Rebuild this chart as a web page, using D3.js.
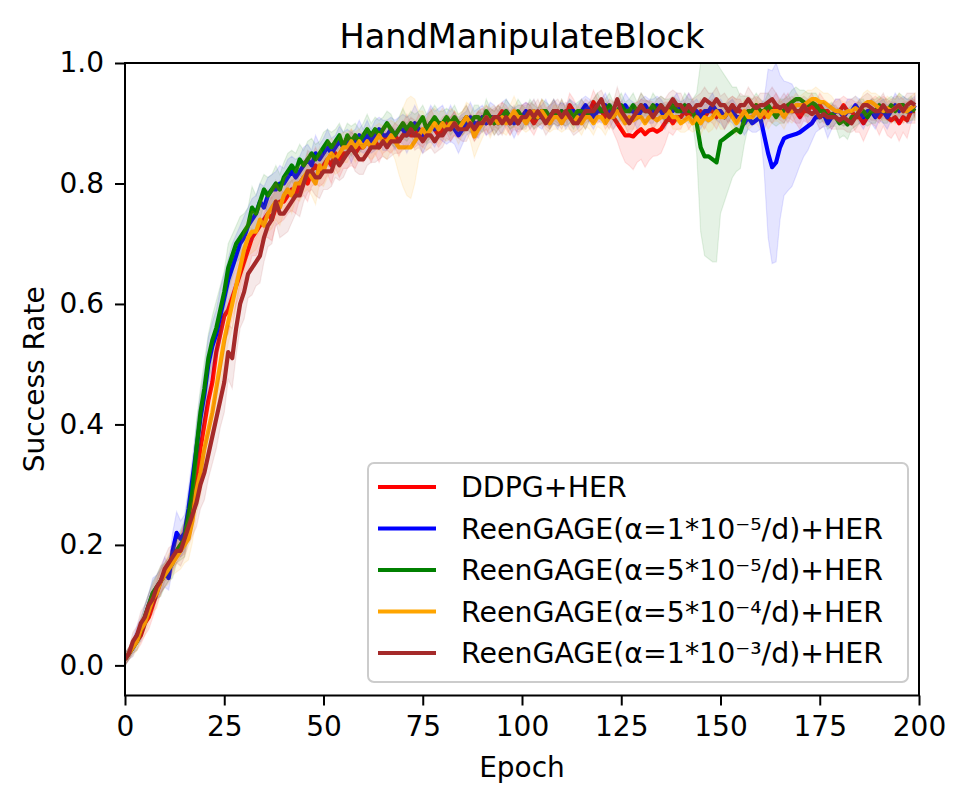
<!DOCTYPE html>
<html>
<head>
<meta charset="utf-8">
<script src="https://cdn.jsdelivr.net/npm/d3@7"></script>
<style>
  body { margin: 0; background: #fff; }
  text { font-family: 'DejaVu Sans', sans-serif; fill: #000; }
</style>
</head>
<body>
<svg id="chart"></svg>
<script>
// 系列與樣式
const seriesNames = [
  'DDPG+HER',
  'ReenGAGE(α=1*10⁻⁵/d)+HER',
  'ReenGAGE(α=5*10⁻⁵/d)+HER',
  'ReenGAGE(α=5*10⁻⁴/d)+HER',
  'ReenGAGE(α=1*10⁻³/d)+HER'
]
const seriesColors = ['#ff0000', '#0000ff', '#008000', '#ffa500', '#a52a2a']
const xTicks = [0, 25, 50, 75, 100, 125, 150, 175, 200]
const yTicks = [0.0, 0.2, 0.4, 0.6, 0.8, 1.0]

// 每個 epoch 的平均成功率
const ddpgMean = [
  0.01, 0.02, 0.03, 0.04, 0.05, 0.07, 0.08, 0.10, 0.12, 0.14, 0.15, 0.16, 0.18, 0.19, 0.20, 0.21, 0.24, 0.27, 0.31, 0.36,
  0.40, 0.44, 0.47, 0.52, 0.55, 0.58, 0.59, 0.61, 0.63, 0.65, 0.67, 0.69, 0.71, 0.72, 0.73, 0.74, 0.75, 0.74, 0.76, 0.77,
  0.77, 0.78, 0.79, 0.78, 0.80, 0.81, 0.80, 0.82, 0.83, 0.82, 0.83, 0.84, 0.83, 0.85, 0.84, 0.85, 0.85, 0.86, 0.85, 0.86,
  0.86, 0.87, 0.86, 0.87, 0.86, 0.87, 0.88, 0.87, 0.88, 0.87, 0.88, 0.89, 0.88, 0.88, 0.89, 0.88, 0.89, 0.90, 0.89, 0.88,
  0.89, 0.90, 0.89, 0.90, 0.89, 0.90, 0.91, 0.90, 0.89, 0.90, 0.91, 0.90, 0.91, 0.90, 0.91, 0.92, 0.91, 0.90, 0.91, 0.90,
  0.91, 0.92, 0.91, 0.90, 0.91, 0.92, 0.91, 0.91, 0.92, 0.91, 0.92, 0.91, 0.93, 0.92, 0.91, 0.92, 0.91, 0.92, 0.935, 0.92,
  0.92, 0.91, 0.92, 0.91, 0.90, 0.89, 0.88, 0.88, 0.878, 0.885, 0.89, 0.882, 0.888, 0.89, 0.886, 0.89, 0.90, 0.91, 0.90, 0.91,
  0.91, 0.92, 0.91, 0.92, 0.91, 0.92, 0.91, 0.92, 0.92, 0.91, 0.92, 0.91, 0.92, 0.93, 0.92, 0.92, 0.91, 0.92, 0.92, 0.93,
  0.92, 0.91, 0.92, 0.92, 0.93, 0.92, 0.92, 0.93, 0.92, 0.92, 0.91, 0.92, 0.92, 0.93, 0.92, 0.93, 0.92, 0.92, 0.91, 0.92,
  0.92, 0.93, 0.92, 0.92, 0.91, 0.91, 0.90, 0.91, 0.92, 0.92, 0.91, 0.92, 0.91, 0.905, 0.91, 0.90, 0.91, 0.905, 0.92, 0.92
]
const alpha1e5Mean = [
  0.01, 0.02, 0.03, 0.05, 0.06, 0.08, 0.10, 0.12, 0.13, 0.14, 0.155, 0.145, 0.19, 0.22, 0.21, 0.22, 0.26, 0.31, 0.36, 0.41,
  0.45, 0.50, 0.53, 0.55, 0.58, 0.61, 0.64, 0.66, 0.68, 0.70, 0.71, 0.73, 0.74, 0.75, 0.77, 0.76, 0.78, 0.79, 0.79, 0.80,
  0.80, 0.81, 0.82, 0.81, 0.82, 0.83, 0.84, 0.83, 0.85, 0.84, 0.85, 0.86, 0.85, 0.86, 0.87, 0.86, 0.87, 0.86, 0.87, 0.88,
  0.87, 0.88, 0.87, 0.88, 0.89, 0.88, 0.88, 0.89, 0.88, 0.89, 0.89, 0.88, 0.89, 0.90, 0.89, 0.88, 0.89, 0.90, 0.89, 0.90,
  0.90, 0.89, 0.90, 0.89, 0.88, 0.89, 0.90, 0.91, 0.90, 0.90, 0.91, 0.90, 0.91, 0.91, 0.90, 0.91, 0.92, 0.91, 0.90, 0.91,
  0.91, 0.92, 0.91, 0.92, 0.91, 0.91, 0.92, 0.91, 0.92, 0.91, 0.92, 0.91, 0.92, 0.92, 0.91, 0.92, 0.93, 0.92, 0.91, 0.92,
  0.92, 0.93, 0.92, 0.91, 0.92, 0.92, 0.93, 0.92, 0.92, 0.91, 0.92, 0.93, 0.92, 0.92, 0.93, 0.92, 0.91, 0.92, 0.92, 0.93,
  0.92, 0.92, 0.93, 0.92, 0.92, 0.91, 0.92, 0.92, 0.93, 0.92, 0.92, 0.91, 0.92, 0.92, 0.91, 0.91, 0.90, 0.91, 0.90, 0.905,
  0.91, 0.88, 0.85, 0.827, 0.835, 0.86, 0.875, 0.878, 0.88, 0.882, 0.885, 0.89, 0.895, 0.90, 0.91, 0.91, 0.915, 0.90, 0.91, 0.92,
  0.92, 0.91, 0.92, 0.92, 0.93, 0.92, 0.91, 0.92, 0.92, 0.91, 0.92, 0.92, 0.91, 0.92, 0.93, 0.92, 0.93, 0.92, 0.92, 0.93
]
const alpha5e5Mean = [
  0.01, 0.02, 0.03, 0.04, 0.06, 0.08, 0.10, 0.12, 0.13, 0.14, 0.15, 0.16, 0.17, 0.19, 0.20, 0.21, 0.25, 0.29, 0.36, 0.42,
  0.46, 0.51, 0.54, 0.56, 0.59, 0.62, 0.66, 0.68, 0.70, 0.71, 0.72, 0.73, 0.76, 0.75, 0.77, 0.79, 0.78, 0.79, 0.80, 0.79,
  0.81, 0.82, 0.83, 0.82, 0.84, 0.83, 0.84, 0.85, 0.84, 0.85, 0.86, 0.87, 0.86, 0.87, 0.88, 0.86, 0.88, 0.87, 0.88, 0.87,
  0.88, 0.89, 0.88, 0.89, 0.88, 0.89, 0.90, 0.89, 0.88, 0.89, 0.90, 0.89, 0.90, 0.89, 0.90, 0.91, 0.89, 0.90, 0.91, 0.90,
  0.90, 0.91, 0.90, 0.91, 0.90, 0.90, 0.91, 0.90, 0.91, 0.91, 0.90, 0.92, 0.91, 0.90, 0.91, 0.91, 0.92, 0.91, 0.91, 0.92,
  0.91, 0.91, 0.92, 0.91, 0.91, 0.92, 0.92, 0.91, 0.92, 0.91, 0.92, 0.91, 0.92, 0.91, 0.92, 0.92, 0.91, 0.92, 0.92, 0.93,
  0.92, 0.92, 0.93, 0.92, 0.92, 0.93, 0.92, 0.92, 0.93, 0.92, 0.93, 0.92, 0.92, 0.93, 0.92, 0.93, 0.92, 0.92, 0.93, 0.92,
  0.92, 0.93, 0.92, 0.92, 0.90, 0.86, 0.845, 0.845, 0.84, 0.835, 0.87, 0.875, 0.88, 0.885, 0.89, 0.885, 0.905, 0.92, 0.92, 0.93,
  0.92, 0.92, 0.93, 0.92, 0.91, 0.92, 0.92, 0.93, 0.935, 0.94, 0.94, 0.935, 0.93, 0.935, 0.93, 0.92, 0.92, 0.91, 0.915, 0.91,
  0.90, 0.905, 0.898, 0.91, 0.91, 0.92, 0.92, 0.91, 0.92, 0.92, 0.93, 0.92, 0.92, 0.93, 0.92, 0.93, 0.93, 0.92, 0.925, 0.92
]
const alpha5e4Mean = [
  0.01, 0.02, 0.03, 0.04, 0.06, 0.07, 0.09, 0.11, 0.12, 0.14, 0.15, 0.16, 0.17, 0.18, 0.19, 0.20, 0.21, 0.24, 0.29, 0.32,
  0.36, 0.39, 0.42, 0.46, 0.50, 0.54, 0.57, 0.60, 0.63, 0.66, 0.69, 0.71, 0.72, 0.72, 0.74, 0.73, 0.75, 0.76, 0.77, 0.76,
  0.78, 0.79, 0.78, 0.80, 0.80, 0.81, 0.82, 0.81, 0.80, 0.83, 0.82, 0.84, 0.85, 0.84, 0.85, 0.86, 0.86, 0.87, 0.86, 0.87,
  0.86, 0.87, 0.86, 0.87, 0.88, 0.87, 0.87, 0.88, 0.87, 0.86, 0.86, 0.86, 0.86, 0.87, 0.88, 0.89, 0.88, 0.89, 0.90, 0.89,
  0.90, 0.89, 0.90, 0.90, 0.89, 0.90, 0.91, 0.90, 0.878, 0.89, 0.90, 0.91, 0.90, 0.91, 0.90, 0.91, 0.90, 0.91, 0.92, 0.91,
  0.91, 0.90, 0.91, 0.92, 0.91, 0.92, 0.91, 0.90, 0.91, 0.91, 0.90, 0.91, 0.91, 0.90, 0.91, 0.90, 0.91, 0.91, 0.90, 0.91,
  0.91, 0.90, 0.91, 0.91, 0.92, 0.91, 0.90, 0.91, 0.905, 0.91, 0.91, 0.90, 0.91, 0.91, 0.905, 0.91, 0.91, 0.92, 0.91, 0.91,
  0.90, 0.905, 0.91, 0.90, 0.91, 0.90, 0.91, 0.905, 0.91, 0.92, 0.91, 0.91, 0.92, 0.91, 0.90, 0.91, 0.92, 0.91, 0.91, 0.92,
  0.91, 0.92, 0.91, 0.92, 0.92, 0.92, 0.91, 0.92, 0.92, 0.93, 0.93, 0.93, 0.935, 0.94, 0.94, 0.935, 0.935, 0.93, 0.925, 0.92,
  0.92, 0.915, 0.92, 0.92, 0.925, 0.92, 0.93, 0.935, 0.935, 0.93, 0.925, 0.92, 0.925, 0.92, 0.925, 0.93, 0.92, 0.92, 0.925, 0.93
]
const alpha1e3Mean = [
  0.01, 0.02, 0.04, 0.05, 0.07, 0.08, 0.10, 0.11, 0.13, 0.14, 0.16, 0.17, 0.18, 0.19, 0.19, 0.21, 0.23, 0.25, 0.27, 0.30,
  0.32, 0.35, 0.38, 0.41, 0.44, 0.47, 0.52, 0.51, 0.56, 0.60, 0.62, 0.65, 0.66, 0.67, 0.68, 0.71, 0.73, 0.74, 0.77, 0.75,
  0.75, 0.76, 0.77, 0.78, 0.78, 0.80, 0.82, 0.82, 0.81, 0.81, 0.82, 0.82, 0.82, 0.84, 0.83, 0.84, 0.85, 0.86, 0.85, 0.84,
  0.84, 0.85, 0.86, 0.86, 0.86, 0.87, 0.86, 0.87, 0.87, 0.87, 0.88, 0.88, 0.89, 0.88, 0.88, 0.87, 0.88, 0.88, 0.87, 0.88,
  0.88, 0.89, 0.89, 0.90, 0.89, 0.89, 0.89, 0.90, 0.89, 0.90, 0.90, 0.91, 0.90, 0.91, 0.91, 0.90, 0.91, 0.90, 0.91, 0.90,
  0.91, 0.91, 0.92, 0.91, 0.92, 0.91, 0.90, 0.91, 0.92, 0.92, 0.91, 0.92, 0.91, 0.90, 0.90, 0.91, 0.92, 0.92, 0.92, 0.93,
  0.94, 0.92, 0.91, 0.92, 0.94, 0.92, 0.91, 0.90, 0.91, 0.92, 0.93, 0.92, 0.92, 0.91, 0.92, 0.93, 0.92, 0.93, 0.94, 0.93,
  0.93, 0.92, 0.93, 0.92, 0.93, 0.93, 0.94, 0.935, 0.93, 0.94, 0.93, 0.93, 0.92, 0.93, 0.92, 0.93, 0.93, 0.94, 0.93, 0.925,
  0.93, 0.93, 0.935, 0.94, 0.93, 0.925, 0.93, 0.92, 0.93, 0.92, 0.92, 0.93, 0.92, 0.915, 0.92, 0.91, 0.915, 0.91, 0.91, 0.91,
  0.905, 0.91, 0.905, 0.90, 0.91, 0.92, 0.93, 0.93, 0.925, 0.92, 0.92, 0.93, 0.92, 0.92, 0.925, 0.93, 0.92, 0.93, 0.935, 0.93
]

// 陰影帶（平均值上下的標準差）
const ddpgSpread = [
  0.01, 0.01, 0.01, 0.015, 0.015, 0.02, 0.02, 0.02, 0.02, 0.02, 0.02, 0.02, 0.025, 0.02, 0.02, 0.025, 0.03, 0.03, 0.035, 0.04,
  0.04, 0.04, 0.045, 0.04, 0.04, 0.035, 0.04, 0.035, 0.03, 0.035, 0.03, 0.035, 0.03, 0.04, 0.035, 0.03, 0.04, 0.035, 0.03, 0.035,
  0.03, 0.03, 0.035, 0.03, 0.025, 0.03, 0.03, 0.025, 0.03, 0.025, 0.03, 0.025, 0.03, 0.025, 0.03, 0.025, 0.025, 0.03, 0.025, 0.02,
  0.025, 0.02, 0.025, 0.02, 0.025, 0.02, 0.025, 0.02, 0.02, 0.025, 0.02, 0.025, 0.02, 0.02, 0.025, 0.02, 0.02, 0.025, 0.02, 0.02,
  0.02, 0.015, 0.02, 0.02, 0.015, 0.02, 0.02, 0.015, 0.02, 0.02, 0.015, 0.02, 0.015, 0.02, 0.02, 0.015, 0.02, 0.02, 0.015, 0.02,
  0.02, 0.015, 0.02, 0.02, 0.015, 0.02, 0.015, 0.02, 0.02, 0.015, 0.02, 0.015, 0.02, 0.02, 0.015, 0.02, 0.02, 0.015, 0.02, 0.02,
  0.015, 0.02, 0.02, 0.025, 0.03, 0.04, 0.045, 0.05, 0.055, 0.05, 0.05, 0.055, 0.05, 0.045, 0.04, 0.04, 0.035, 0.025, 0.02, 0.02,
  0.02, 0.015, 0.02, 0.02, 0.015, 0.02, 0.02, 0.015, 0.02, 0.02, 0.015, 0.02, 0.02, 0.015, 0.02, 0.02, 0.015, 0.02, 0.02, 0.015,
  0.02, 0.02, 0.015, 0.02, 0.02, 0.015, 0.02, 0.02, 0.015, 0.02, 0.02, 0.015, 0.02, 0.02, 0.015, 0.02, 0.02, 0.015, 0.02, 0.02,
  0.02, 0.015, 0.02, 0.02, 0.025, 0.025, 0.03, 0.025, 0.02, 0.025, 0.03, 0.025, 0.03, 0.03, 0.025, 0.03, 0.025, 0.03, 0.02, 0.02
]
const alpha1e5Spread = [
  0.01, 0.01, 0.015, 0.015, 0.02, 0.02, 0.02, 0.025, 0.02, 0.02, 0.025, 0.02, 0.03, 0.035, 0.03, 0.03, 0.035, 0.035, 0.04, 0.04,
  0.04, 0.045, 0.04, 0.04, 0.045, 0.04, 0.035, 0.04, 0.035, 0.03, 0.035, 0.03, 0.035, 0.03, 0.03, 0.035, 0.03, 0.025, 0.03, 0.03,
  0.025, 0.03, 0.025, 0.03, 0.025, 0.03, 0.025, 0.025, 0.03, 0.025, 0.025, 0.03, 0.025, 0.02, 0.025, 0.025, 0.02, 0.025, 0.02, 0.025,
  0.02, 0.025, 0.02, 0.025, 0.02, 0.025, 0.025, 0.02, 0.025, 0.02, 0.025, 0.03, 0.025, 0.03, 0.025, 0.03, 0.025, 0.03, 0.03, 0.025,
  0.03, 0.025, 0.03, 0.025, 0.03, 0.025, 0.02, 0.025, 0.02, 0.025, 0.02, 0.02, 0.025, 0.02, 0.02, 0.025, 0.02, 0.02, 0.025, 0.02,
  0.02, 0.015, 0.02, 0.02, 0.015, 0.02, 0.02, 0.015, 0.02, 0.02, 0.015, 0.02, 0.02, 0.015, 0.02, 0.02, 0.015, 0.02, 0.02, 0.015,
  0.02, 0.02, 0.015, 0.02, 0.02, 0.015, 0.02, 0.02, 0.015, 0.02, 0.02, 0.015, 0.02, 0.02, 0.015, 0.02, 0.02, 0.015, 0.02, 0.02,
  0.015, 0.02, 0.02, 0.015, 0.02, 0.02, 0.015, 0.02, 0.02, 0.015, 0.02, 0.02, 0.015, 0.02, 0.02, 0.015, 0.02, 0.02, 0.015, 0.02,
  0.02, 0.06, 0.14, 0.16, 0.165, 0.12, 0.095, 0.09, 0.085, 0.07, 0.055, 0.045, 0.04, 0.03, 0.025, 0.02, 0.02, 0.025, 0.02, 0.02,
  0.02, 0.015, 0.02, 0.02, 0.015, 0.02, 0.02, 0.015, 0.02, 0.02, 0.015, 0.02, 0.02, 0.015, 0.02, 0.02, 0.015, 0.02, 0.02, 0.015
]
const alpha5e5Spread = [
  0.01, 0.01, 0.01, 0.015, 0.015, 0.02, 0.02, 0.02, 0.02, 0.025, 0.02, 0.02, 0.025, 0.02, 0.025, 0.03, 0.035, 0.04, 0.045, 0.04,
  0.045, 0.04, 0.04, 0.045, 0.04, 0.035, 0.04, 0.035, 0.03, 0.035, 0.03, 0.03, 0.035, 0.03, 0.03, 0.025, 0.03, 0.025, 0.03, 0.025,
  0.025, 0.03, 0.025, 0.03, 0.025, 0.025, 0.03, 0.025, 0.025, 0.02, 0.025, 0.02, 0.025, 0.02, 0.02, 0.025, 0.02, 0.025, 0.02, 0.02,
  0.02, 0.025, 0.02, 0.02, 0.025, 0.02, 0.02, 0.025, 0.02, 0.02, 0.025, 0.02, 0.02, 0.025, 0.02, 0.02, 0.025, 0.02, 0.02, 0.02,
  0.02, 0.015, 0.02, 0.02, 0.015, 0.02, 0.02, 0.015, 0.02, 0.02, 0.015, 0.02, 0.015, 0.02, 0.02, 0.015, 0.02, 0.02, 0.015, 0.02,
  0.02, 0.015, 0.02, 0.02, 0.015, 0.02, 0.015, 0.02, 0.02, 0.015, 0.02, 0.015, 0.02, 0.02, 0.015, 0.02, 0.02, 0.015, 0.02, 0.02,
  0.015, 0.02, 0.02, 0.015, 0.02, 0.02, 0.015, 0.02, 0.02, 0.015, 0.02, 0.02, 0.015, 0.02, 0.02, 0.015, 0.02, 0.02, 0.015, 0.02,
  0.015, 0.02, 0.02, 0.02, 0.05, 0.14, 0.165, 0.17, 0.17, 0.165, 0.12, 0.105, 0.09, 0.075, 0.07, 0.06, 0.04, 0.025, 0.02, 0.02,
  0.02, 0.015, 0.02, 0.02, 0.015, 0.02, 0.02, 0.015, 0.02, 0.02, 0.015, 0.02, 0.02, 0.015, 0.02, 0.02, 0.015, 0.02, 0.02, 0.015,
  0.025, 0.025, 0.025, 0.02, 0.015, 0.02, 0.02, 0.015, 0.02, 0.02, 0.015, 0.02, 0.02, 0.015, 0.02, 0.02, 0.015, 0.02, 0.02, 0.015
]
const alpha5e4Spread = [
  0.01, 0.01, 0.015, 0.015, 0.02, 0.02, 0.02, 0.02, 0.025, 0.02, 0.02, 0.025, 0.02, 0.025, 0.03, 0.03, 0.035, 0.035, 0.04, 0.04,
  0.04, 0.045, 0.04, 0.045, 0.04, 0.04, 0.035, 0.04, 0.035, 0.03, 0.035, 0.03, 0.035, 0.03, 0.035, 0.03, 0.03, 0.035, 0.03, 0.03,
  0.03, 0.025, 0.03, 0.025, 0.03, 0.025, 0.03, 0.03, 0.035, 0.03, 0.025, 0.03, 0.025, 0.025, 0.03, 0.025, 0.025, 0.02, 0.025, 0.02,
  0.02, 0.025, 0.02, 0.025, 0.02, 0.025, 0.03, 0.025, 0.03, 0.045, 0.065, 0.08, 0.085, 0.07, 0.04, 0.03, 0.025, 0.03, 0.025, 0.025,
  0.025, 0.02, 0.025, 0.02, 0.025, 0.02, 0.025, 0.03, 0.035, 0.03, 0.025, 0.02, 0.025, 0.02, 0.02, 0.025, 0.02, 0.02, 0.025, 0.02,
  0.02, 0.015, 0.02, 0.02, 0.015, 0.02, 0.02, 0.015, 0.02, 0.02, 0.015, 0.02, 0.02, 0.015, 0.02, 0.02, 0.015, 0.02, 0.02, 0.015,
  0.02, 0.02, 0.015, 0.02, 0.02, 0.015, 0.02, 0.02, 0.015, 0.02, 0.02, 0.015, 0.02, 0.02, 0.015, 0.02, 0.02, 0.015, 0.02, 0.02,
  0.015, 0.02, 0.02, 0.015, 0.02, 0.02, 0.015, 0.02, 0.02, 0.015, 0.02, 0.02, 0.015, 0.02, 0.02, 0.015, 0.02, 0.02, 0.015, 0.02,
  0.02, 0.015, 0.02, 0.02, 0.015, 0.02, 0.02, 0.015, 0.02, 0.02, 0.015, 0.02, 0.02, 0.015, 0.02, 0.02, 0.015, 0.02, 0.02, 0.015,
  0.02, 0.02, 0.015, 0.02, 0.02, 0.015, 0.02, 0.02, 0.015, 0.02, 0.02, 0.015, 0.02, 0.02, 0.015, 0.02, 0.02, 0.015, 0.02, 0.02
]
const alpha1e3Spread = [
  0.01, 0.01, 0.015, 0.015, 0.02, 0.02, 0.02, 0.025, 0.02, 0.025, 0.02, 0.025, 0.02, 0.02, 0.025, 0.03, 0.03, 0.035, 0.04, 0.04,
  0.045, 0.04, 0.045, 0.05, 0.045, 0.05, 0.045, 0.05, 0.045, 0.04, 0.045, 0.04, 0.045, 0.04, 0.045, 0.04, 0.035, 0.04, 0.035, 0.04,
  0.035, 0.04, 0.035, 0.03, 0.035, 0.03, 0.035, 0.03, 0.03, 0.035, 0.03, 0.03, 0.025, 0.03, 0.025, 0.03, 0.025, 0.025, 0.03, 0.025,
  0.025, 0.02, 0.025, 0.025, 0.02, 0.025, 0.02, 0.025, 0.02, 0.02, 0.025, 0.02, 0.02, 0.025, 0.02, 0.02, 0.025, 0.02, 0.02, 0.025,
  0.02, 0.015, 0.02, 0.02, 0.015, 0.02, 0.02, 0.015, 0.02, 0.02, 0.015, 0.02, 0.02, 0.015, 0.02, 0.02, 0.015, 0.02, 0.02, 0.015,
  0.02, 0.02, 0.015, 0.02, 0.02, 0.015, 0.02, 0.02, 0.015, 0.02, 0.02, 0.015, 0.02, 0.02, 0.015, 0.02, 0.02, 0.015, 0.02, 0.02,
  0.015, 0.02, 0.02, 0.015, 0.02, 0.02, 0.015, 0.02, 0.02, 0.015, 0.02, 0.02, 0.015, 0.02, 0.02, 0.015, 0.02, 0.02, 0.015, 0.02,
  0.02, 0.015, 0.02, 0.02, 0.015, 0.02, 0.02, 0.015, 0.02, 0.02, 0.015, 0.02, 0.02, 0.015, 0.02, 0.02, 0.015, 0.02, 0.02, 0.015,
  0.02, 0.02, 0.015, 0.02, 0.02, 0.015, 0.02, 0.02, 0.015, 0.02, 0.02, 0.015, 0.02, 0.02, 0.015, 0.02, 0.02, 0.015, 0.02, 0.02,
  0.015, 0.02, 0.02, 0.015, 0.02, 0.02, 0.015, 0.02, 0.02, 0.015, 0.02, 0.02, 0.015, 0.02, 0.02, 0.015, 0.02, 0.02, 0.015, 0.02
]

const seriesMeans = [ddpgMean, alpha1e5Mean, alpha5e5Mean, alpha5e4Mean, alpha1e3Mean]
const seriesSpreads = [ddpgSpread, alpha1e5Spread, alpha5e5Spread, alpha5e4Spread, alpha1e3Spread]

const width = 967
const height = 803
const plot = { left: 125, right: 919, top: 63, bottom: 695.5 }
const fontSize = 28

const svg = d3.select('#chart')
  .attr('width', width)
  .attr('height', height)

const x = d3.scaleLinear()
  .domain([0, 200])
  .range([plot.left, plot.right])

const y = d3.scaleLinear()
  .domain([-0.05, 1.0])
  .range([plot.bottom, plot.top])

svg.append('defs')
  .append('clipPath')
  .attr('id', 'plot-clip')
  .append('rect')
  .attr('x', plot.left)
  .attr('y', plot.top)
  .attr('width', plot.right - plot.left)
  .attr('height', plot.bottom - plot.top)

const series = seriesNames.map((name, k) => ({
  name,
  color: seriesColors[k],
  points: seriesMeans[k].map((m, i) => ({ epoch: i, mean: m, spread: seriesSpreads[k][i] }))
}))

const area = d3.area()
  .x(d => x(d.epoch))
  .y0(d => y(d.mean - d.spread))
  .y1(d => y(d.mean + d.spread))

const line = d3.line()
  .x(d => x(d.epoch))
  .y(d => y(d.mean))

const marks = svg.append('g')
  .attr('clip-path', 'url(#plot-clip)')

// 每條線先畫陰影再畫平均線
series.forEach(s => {
  marks.append('path')
    .datum(s.points)
    .attr('d', area)
    .attr('fill', s.color)
    .attr('fill-opacity', 0.1)
    .attr('stroke', s.color)
    .attr('stroke-opacity', 0.1)
    .attr('stroke-width', 1.2)

  marks.append('path')
    .datum(s.points)
    .attr('d', line)
    .attr('fill', 'none')
    .attr('stroke', s.color)
    .attr('stroke-width', 4.2)
    .attr('stroke-linejoin', 'round')
})

// 座標軸
const xAxis = svg.append('g')
  .attr('transform', `translate(0,${plot.bottom})`)
  .call(d3.axisBottom(x).tickValues(xTicks).tickSize(10).tickPadding(11).tickSizeOuter(0))

const yAxis = svg.append('g')
  .attr('transform', `translate(${plot.left},0)`)
  .call(d3.axisLeft(y).tickValues(yTicks).tickFormat(d3.format('.1f')).tickSize(10).tickPadding(11).tickSizeOuter(0))

;[xAxis, yAxis].forEach(ax => {
  ax.select('.domain').remove()
  ax.selectAll('.tick line').attr('stroke', '#000').attr('stroke-width', 2)
  ax.selectAll('.tick text')
    .attr('font-family', 'DejaVu Sans')
    .attr('font-size', fontSize)
    .attr('fill', '#000')
})

// 外框
svg.append('rect')
  .attr('x', plot.left)
  .attr('y', plot.top)
  .attr('width', plot.right - plot.left)
  .attr('height', plot.bottom - plot.top)
  .attr('fill', 'none')
  .attr('stroke', '#000')
  .attr('stroke-width', 2)

// 標題與軸標籤
svg.append('text')
  .attr('x', (plot.left + plot.right) / 2)
  .attr('y', 48)
  .attr('text-anchor', 'middle')
  .attr('font-size', 33.5)
  .text('HandManipulateBlock')

svg.append('text')
  .attr('x', (plot.left + plot.right) / 2)
  .attr('y', 777)
  .attr('text-anchor', 'middle')
  .attr('font-size', fontSize)
  .text('Epoch')

svg.append('text')
  .attr('transform', `translate(44,${(plot.top + plot.bottom) / 2}) rotate(-90)`)
  .attr('text-anchor', 'middle')
  .attr('font-size', fontSize)
  .text('Success Rate')

// 圖例
const legend = svg.append('g')

legend.append('rect')
  .attr('x', 368)
  .attr('y', 463)
  .attr('width', 540)
  .attr('height', 219)
  .attr('rx', 6)
  .attr('fill', '#fff')
  .attr('fill-opacity', 0.8)
  .attr('stroke', '#cccccc')
  .attr('stroke-width', 2)

const rowY = i => 487 + i * 41.5

legend.selectAll('.legend-line')
  .data(series)
  .enter()
  .append('line')
  .attr('class', 'legend-line')
  .attr('x1', 378)
  .attr('x2', 436)
  .attr('y1', (d, i) => rowY(i))
  .attr('y2', (d, i) => rowY(i))
  .attr('stroke', d => d.color)
  .attr('stroke-width', 4)

legend.selectAll('.legend-text')
  .data(series)
  .enter()
  .append('text')
  .attr('class', 'legend-text')
  .attr('x', 461)
  .attr('y', (d, i) => rowY(i))
  .attr('dy', '0.36em')
  .attr('font-size', 28.4)
  .text(d => d.name)
</script>
</body>
</html>
